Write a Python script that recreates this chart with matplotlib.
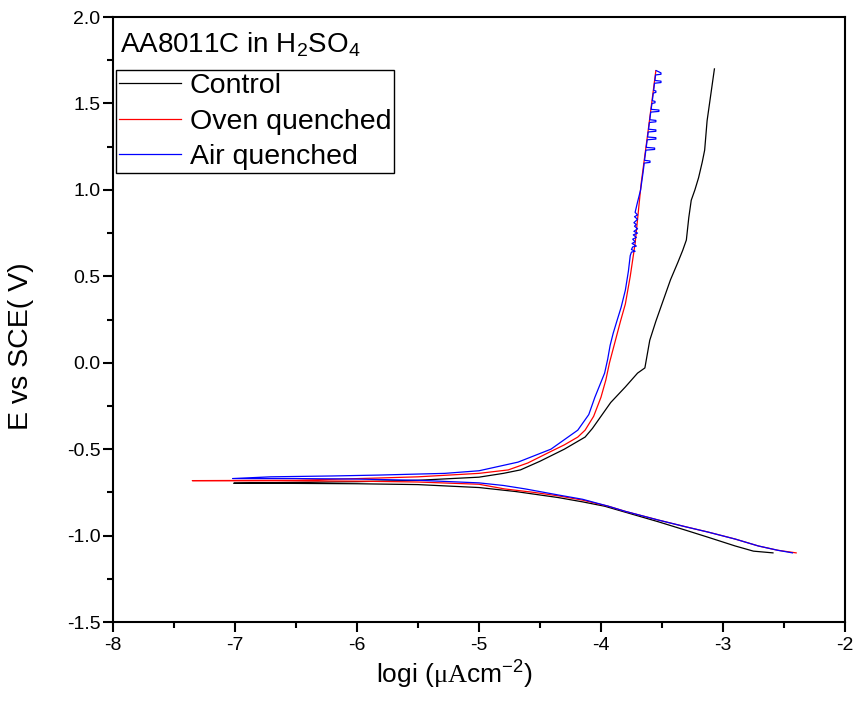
"""
Tafel polarisation curves of AA8011C in H2SO4 (control vs oven / air quenched).
"""
import matplotlib
matplotlib.use("Agg")
import matplotlib.pyplot as plt
from matplotlib.ticker import MultipleLocator, FormatStrFormatter

plt.rcParams["font.family"] = ["Liberation Sans", "DejaVu Sans"]
plt.rcParams["axes.unicode_minus"] = False
plt.rcParams["mathtext.fontset"] = "custom"
plt.rcParams["mathtext.rm"] = "Liberation Sans"
plt.rcParams["mathtext.it"] = "Liberation Sans:italic"
plt.rcParams["mathtext.sf"] = "Liberation Serif"

# ---- data (log i, E vs SCE), in scan order ----
control_logi = [-2.59, -2.75, -2.90, -3.12, -3.30, -3.53, -3.75, -3.97, -4.15, -4.35,
                -4.70, -5.00, -5.50, -6.00, -6.50, -7.01,
                -6.50, -6.00, -5.50, -5.00, -4.80, -4.66, -4.50, -4.30, -4.13, -4.07,
                -4.02, -3.97, -3.92, -3.84, -3.80, -3.70, -3.64, -3.62, -3.60, -3.55,
                -3.49, -3.43, -3.37, -3.33, -3.30, -3.28, -3.26, -3.23, -3.20, -3.17,
                -3.15, -3.13, -3.10, -3.07]
control_e = [-1.10, -1.09, -1.06, -1.01, -0.97, -0.92, -0.875, -0.83, -0.805, -0.78,
             -0.745, -0.722, -0.705, -0.700, -0.698, -0.697,
             -0.692, -0.688, -0.680, -0.662, -0.64, -0.62, -0.57, -0.50, -0.43, -0.38,
             -0.33, -0.28, -0.23, -0.17, -0.14, -0.06, -0.03, 0.05, 0.13, 0.24,
             0.36, 0.48, 0.58, 0.65, 0.71, 0.84, 0.94, 1.00, 1.07, 1.16,
             1.23, 1.40, 1.55, 1.70]

oven_logi = [-2.40, -2.55, -2.71, -2.90, -3.12, -3.30, -3.53, -3.80, -3.94, -4.15,
             -4.35, -4.55, -4.79, -5.00, -5.50, -6.00, -6.50, -7.35,
             -6.50, -5.83, -5.50, -5.00, -4.76, -4.60, -4.43, -4.30, -4.19, -4.13,
             -4.06, -4.00, -3.96, -3.93, -3.90, -3.87, -3.84, -3.80, -3.76, -3.72,
             -3.67, -3.61, -3.55]
oven_e = [-1.10, -1.085, -1.06, -1.02, -0.98, -0.95, -0.91, -0.86, -0.83, -0.795,
          -0.77, -0.75, -0.73, -0.703, -0.69, -0.685, -0.683, -0.682,
          -0.68, -0.667, -0.66, -0.64, -0.62, -0.58, -0.52, -0.475, -0.43, -0.39,
          -0.31, -0.20, -0.10, 0.0, 0.08, 0.16, 0.24, 0.34, 0.50, 0.69,
          1.04, 1.36, 1.69]

air_logi = [-2.43, -2.55, -2.71, -2.90, -3.12, -3.30, -3.53, -3.80, -3.94, -4.15,
            -4.35, -4.62, -4.80, -5.00, -5.50, -6.00, -6.50, -7.02,
            -6.71, -6.20, -5.83, -5.28, -5.00, -4.68, -4.41, -4.30, -4.19, -4.10,
            -4.05, -4.01, -3.97, -3.945, -3.925, -3.90, -3.87, -3.835, -3.80, -3.775,
            -3.76,
            -3.75, -3.72, -3.75, -3.74, -3.71, -3.745, -3.72, -3.74, -3.71, -3.735,
            -3.70, -3.73, -3.70, -3.725, -3.71, -3.73, -3.70, -3.725, -3.70, -3.72,
            -3.70, -3.675, -3.665, -3.655, -3.648,
            -3.646, -3.598, -3.598, -3.643, -3.632, -3.560, -3.560, -3.629,
            -3.621, -3.550, -3.550, -3.618, -3.613, -3.550, -3.550, -3.610,
            -3.603, -3.550, -3.550, -3.600, -3.592, -3.525, -3.525, -3.589,
            -3.582, -3.557, -3.557, -3.579, -3.571, -3.550, -3.550, -3.568,
            -3.561, -3.508, -3.508, -3.558, -3.552, -3.508, -3.508, -3.547]
air_e = [-1.10, -1.085, -1.06, -1.02, -0.98, -0.95, -0.91, -0.86, -0.83, -0.79,
         -0.765, -0.73, -0.71, -0.695, -0.68, -0.673, -0.67, -0.67,
         -0.66, -0.655, -0.65, -0.64, -0.625, -0.575, -0.50, -0.445, -0.39, -0.30,
         -0.20, -0.13, -0.06, 0.02, 0.10, 0.17, 0.24, 0.32, 0.42, 0.53,
         0.62,
         0.64, 0.645, 0.655, 0.67, 0.675, 0.69, 0.70, 0.715, 0.725, 0.74,
         0.75, 0.76, 0.775, 0.79, 0.80, 0.81, 0.83, 0.845, 0.855, 0.87,
         0.93, 1.00, 1.05, 1.10, 1.14,
         1.155, 1.159, 1.167, 1.171, 1.23, 1.234, 1.242, 1.246,
         1.29, 1.294, 1.302, 1.306, 1.335, 1.339, 1.347, 1.351,
         1.39, 1.394, 1.402, 1.406, 1.45, 1.454, 1.462, 1.466,
         1.50, 1.504, 1.512, 1.516, 1.56, 1.564, 1.572, 1.576,
         1.617, 1.621, 1.629, 1.633, 1.665, 1.669, 1.677, 1.69]

labels = ["Control", "Oven quenched", "Air quenched"]
colors = ["black", "red", "blue"]

fig = plt.figure(figsize=(8.54, 7.07), dpi=100)
ax = fig.add_axes([0.1323, 0.1202, 0.8571, 0.8557])

ax.plot(control_logi, control_e, color=colors[0], lw=0.9, label=labels[0])
ax.plot(oven_logi, oven_e, color=colors[1], lw=0.9, label=labels[1])
ax.plot(air_logi, air_e, color=colors[2], lw=0.9, label=labels[2])

ax.set_xlim(-8, -2)
ax.set_ylim(-1.5, 2.0)
ax.xaxis.set_major_locator(MultipleLocator(1))
ax.xaxis.set_minor_locator(MultipleLocator(0.5))
ax.yaxis.set_major_locator(MultipleLocator(0.5))
ax.yaxis.set_minor_locator(MultipleLocator(0.25))
ax.yaxis.set_major_formatter(FormatStrFormatter("%.1f"))

for spine in ax.spines.values():
    spine.set_linewidth(1.5)
ax.tick_params(which="both", direction="out", top=False, right=False, width=1.5)
ax.tick_params(which="major", length=7, labelsize=14)
ax.tick_params(axis="y", which="major", pad=2)
ax.tick_params(axis="x", which="major", pad=4)
ax.tick_params(which="minor", length=4)

ax.set_xlabel(r"logi ($\mathsf{\mu A}$cm$^{-2}$)", fontsize=19)
ax.xaxis.set_label_coords(0.466, -0.06)
ax.set_ylabel("E vs SCE( V)", fontsize=20.5)
ax.yaxis.set_label_coords(-0.108, 0.456)

ax.text(0.01, 0.955, r"AA8011C in H$_2$SO$_4$", transform=ax.transAxes,
        fontsize=20, ha="left", va="center")

leg = ax.legend(loc="upper left", bbox_to_anchor=(0.004, 0.912), borderaxespad=0,
                fontsize=20.5, frameon=True, fancybox=False, framealpha=1,
                edgecolor="black", handlelength=2.2, handletextpad=0.3,
                labelspacing=0.33, borderpad=0.1)
leg.get_frame().set_linewidth(1.0)

fig.savefig("out.png", dpi=100)
